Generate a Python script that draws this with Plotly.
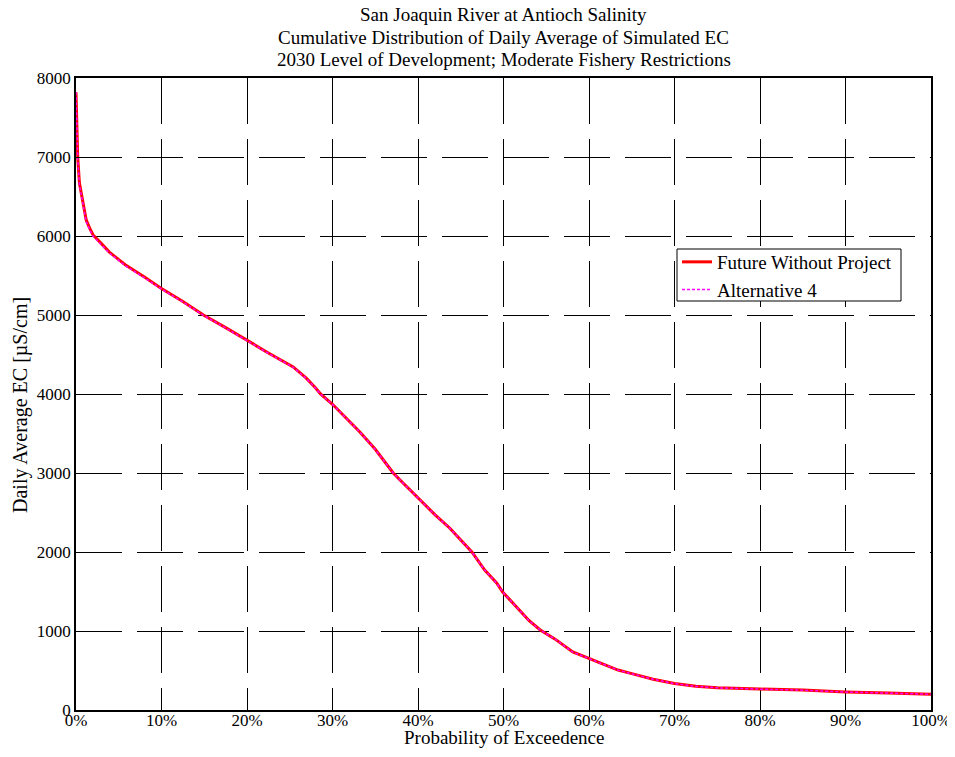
import plotly.graph_objects as go

# Probability of exceedence (%) and daily average EC (uS/cm)
exceed_pct = [0, 0.1, 0.2, 0.4, 0.6, 0.85, 1.2, 1.6, 2.0, 3.0, 3.9, 5.0, 5.8, 8.0, 9.9,
              12.5, 14.9, 17.5, 19.9, 22.5, 25.4, 26.9, 28.0, 28.6, 30.0, 31.5, 33.2,
              35.0, 37.1, 37.9, 40.2, 42.0, 43.7, 45.0, 46.3, 47.8, 49.2, 49.9, 51.5,
              53.0, 54.3, 56.0, 58.1, 60.5, 63.4, 65.0, 67.5, 70.0, 72.5, 75.0, 77.5,
              80.0, 85.0, 90.0, 95.0, 100.0]
ec_future = [7820, 7300, 7000, 6670, 6550, 6420, 6200, 6100, 6013, 5900, 5797, 5700,
             5633, 5480, 5342, 5170, 5000, 4840, 4684, 4520, 4342, 4203, 4080, 4000,
             3870, 3700, 3520, 3300, 3000, 2911, 2658, 2470, 2304, 2150, 2000, 1772,
             1608, 1494, 1304, 1130, 1013, 900, 734, 633, 506, 460, 390, 335, 300,
             282, 272, 265, 252, 228, 215, 200]
ec_alt4 = [7820, 7280, 6980, 6650, 6520, 6390, 6180, 6080, 5995, 5885, 5785, 5690,
           5622, 5472, 5336, 5165, 4996, 4836, 4680, 4516, 4338, 4200, 4077, 3998,
           3868, 3698, 3518, 3298, 2999, 2910, 2657, 2469, 2303, 2149, 1999, 1771,
           1607, 1493, 1303, 1129, 1012, 899, 733, 632, 505, 459, 389, 334, 299,
           281, 271, 264, 251, 227, 214, 199]

x_ticks = [0, 10, 20, 30, 40, 50, 60, 70, 80, 90, 100]
x_tick_labels = [f"{v}%" for v in x_ticks]
y_ticks = [0, 1000, 2000, 3000, 4000, 5000, 6000, 7000, 8000]

title_lines = ["San Joaquin River at Antioch Salinity",
               "Cumulative Distribution of Daily Average of Simulated EC",
               "2030 Level of Development; Moderate Fishery Restrictions"]
x_title = "Probability of Exceedence"
y_title = "Daily Average EC [µS/cm]"

FONT = "Liberation Serif, Times New Roman, serif"

fig = go.Figure()
fig.add_trace(go.Scatter(x=exceed_pct, y=ec_future, mode="lines",
                         name="Future Without Project",
                         line=dict(color="#FF0000", width=3)))
fig.add_trace(go.Scatter(x=exceed_pct, y=ec_alt4, mode="lines",
                         name="Alternative 4",
                         line=dict(color="#FF00FF", width=1.5, dash="3px,2px")))

axis_common = dict(showline=True, linecolor="black", linewidth=1.5, mirror=True,
                   showgrid=True, gridcolor="black", gridwidth=1,
                   griddash="46px,15px", zeroline=False,
                   ticks="inside", ticklen=5, tickcolor="black",
                   tickfont=dict(family=FONT, size=17, color="black"))

fig.update_xaxes(range=[0, 100], tickvals=x_ticks, ticktext=x_tick_labels,
                 ticklabelstandoff=-6, ticklabeloverflow="allow",
                 **axis_common)
fig.update_yaxes(range=[0, 8000], tickvals=y_ticks, **axis_common)

plot_left, plot_top, plot_w, plot_h = 68, 70, 855, 632

# Title lines placed individually
for i, line in enumerate(title_lines):
    ypix = 7 + 22 * i
    fig.add_annotation(text=line, xref="paper", yref="paper", x=0.5,
                       y=(plot_top + plot_h - ypix) / plot_h,
                       xanchor="center", yanchor="middle", showarrow=False,
                       font=dict(family=FONT, size=19, color="black"))

# Axis titles
fig.add_annotation(text=x_title, xref="paper", yref="paper",
                   x=0.5, y=(plot_top + plot_h - 729) / plot_h,
                   xanchor="center", yanchor="middle", showarrow=False,
                   font=dict(family=FONT, size=19, color="black"))
fig.add_annotation(text=y_title, xref="paper", yref="paper",
                   x=(12 - plot_left) / plot_w, y=(plot_top + plot_h - 397) / plot_h,
                   xanchor="center", yanchor="middle", textangle=-90, showarrow=False,
                   font=dict(family=FONT, size=20, color="black"))

# Legend frame (box in pixels: x 669-893, y 241-293 of the figure)
fig.add_shape(type="rect", xref="paper", yref="paper", layer="above",
              x0=(669 - plot_left) / plot_w, x1=(893 - plot_left) / plot_w,
              y0=(plot_top + plot_h - 293) / plot_h, y1=(plot_top + plot_h - 241) / plot_h,
              fillcolor="white", line=dict(color="black", width=1))

fig.update_layout(
    width=947, height=741,
    margin=dict(l=plot_left, r=947 - plot_left - plot_w, t=plot_top,
                b=741 - plot_top - plot_h, autoexpand=False),
    paper_bgcolor="white", plot_bgcolor="white",
    font=dict(family=FONT, size=17, color="black"),
    legend=dict(x=(669 - plot_left) / plot_w, y=(plot_top + plot_h - 235) / plot_h,
                xanchor="left", yanchor="top",
                bgcolor="rgba(0,0,0,0)", borderwidth=0,
                font=dict(family=FONT, size=19, color="black"),
                tracegroupgap=0),
    showlegend=True,
)

fig.write_html("out.html")
